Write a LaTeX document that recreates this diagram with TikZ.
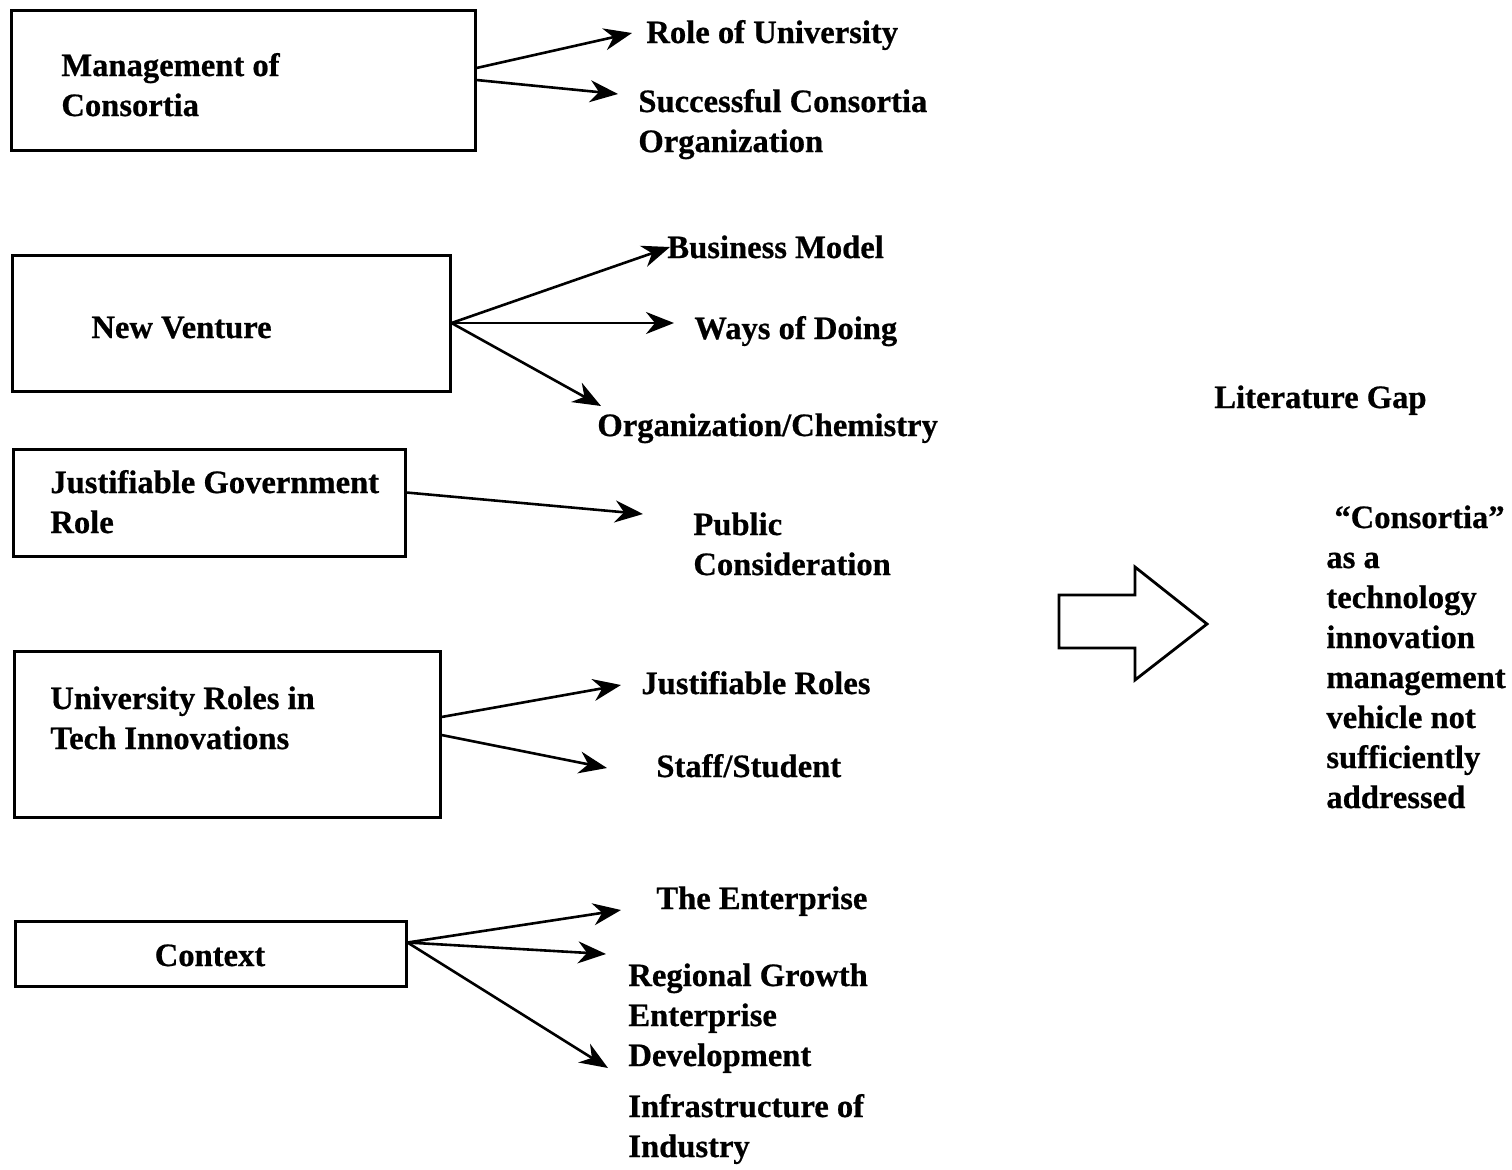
\documentclass[tikz,border=0pt]{standalone}
\usepackage{fontspec}
\setmainfont{Liberation Serif}[BoldFeatures={FakeBold=0.6}]
\usetikzlibrary{arrows.meta,calc}
\newcommand{\labelfont}{\fontsize{16.3}{20}\selectfont\bfseries}
\tikzset{
  box/.style={draw, rectangle, line width=1.5pt, inner sep=0pt},
  % multi-line labels are placed by the baseline of their last line
  lbl/.style={inner sep=0pt, anchor=base west, align=left, font=\labelfont},
  link/.style={line width=1.3pt, -{Stealth[length=14pt,width=11pt,inset=4.5pt]}},
}
\begin{document}
\begin{tikzpicture}[x=0.5pt,y=-0.5pt]
\useasboundingbox (0,0) rectangle (1512,1169);

% topic boxes
\node[box, minimum width=232pt, minimum height=70pt]   (b1) at (243,80) {};
\node[box, minimum width=219pt, minimum height=68pt]   (b2) at (231,323) {};
\node[box, minimum width=196pt, minimum height=53.5pt] (b3) at (209,502.5) {};
\node[box, minimum width=213pt, minimum height=83pt]   (b4) at (227,734) {};
\node[box, minimum width=195.5pt, minimum height=32.5pt] (b5) at (210.5,953.5) {};

% box titles
\node[lbl] (t1) at (61,116) {Management of\\Consortia};
\node[lbl] (t2) at (91,338) {New Venture};
\node[lbl] (t3) at (50,533) {Justifiable Government\\Role};
\node[lbl] (t4) at (50,749) {University Roles in\\Tech Innovations};
\node[lbl, anchor=base] (t5) at (210,966) {Context};

% sub-topic labels
\node[lbl] (r1)  at (646,43)  {Role of University};
\node[lbl] (r2)  at (638,152) {Successful Consortia\\Organization};
\node[lbl] (r3)  at (667,258) {Business Model};
\node[lbl] (r4)  at (694,339) {Ways of Doing};
\node[lbl] (r5)  at (597,436) {Organization/Chemistry};
\node[lbl] (r6)  at (693,575) {Public\\Consideration};
\node[lbl] (r7)  at (641,694) {Justifiable Roles};
\node[lbl] (r8)  at (656,777) {Staff/Student};
\node[lbl] (r9)  at (656,909) {The Enterprise};
\node[lbl] (r10) at (628,1066) {Regional Growth\\Enterprise\\Development};
\node[lbl] (r11) at (628,1157) {Infrastructure of\\Industry};

% conclusion
\node[lbl] (gap) at (1214,408) {Literature Gap};
\node[lbl] (q1)  at (1334,528) {“Consortia”};
\node[lbl] (q2)  at (1326,808) {as a\\technology\\innovation\\management\\vehicle not\\sufficiently\\addressed};

% arrow tips
\coordinate (e1)  at (632,33);
\coordinate (e2)  at (618,94);
\coordinate (e3)  at (670,247);
\coordinate (e4)  at (674,323);
\coordinate (e5)  at (601,406);
\coordinate (e6)  at (643,514);
\coordinate (e7)  at (621,685);
\coordinate (e8)  at (607,768);
\coordinate (e9)  at (621,910);
\coordinate (e10) at (606,954);
\coordinate (e11) at (608,1068);

% connectors
\draw[link] ($(b1.east)+(0,-12)$) -- (e1);
\draw[link] ($(b1.east)+(0,0)$) -- (e2);
\draw[link] (b2.east) -- (e3);
\draw[link] (b2.east) -- (e4);
\draw[link] (b2.east) -- (e5);
\draw[link] ($(b3.east)+(0,-10)$) -- (e6);
\draw[link] ($(b4.east)+(0,-17)$) -- (e7);
\draw[link] ($(b4.east)+(0,1)$) -- (e8);
\draw[link] ($(b5.east)+(0,-11)$) -- (e9);
\draw[link] ($(b5.east)+(0,-11)$) -- (e10);
\draw[link] ($(b5.east)+(0,-11)$) -- (e11);

% block arrow towards the conclusion
\draw[line width=1.4pt, line join=miter]
  (1059,595) -- (1135,595) -- (1135,567) -- (1207,624) -- (1135,680)
  -- (1135,648) -- (1059,648) -- cycle;
\end{tikzpicture}
\end{document}
